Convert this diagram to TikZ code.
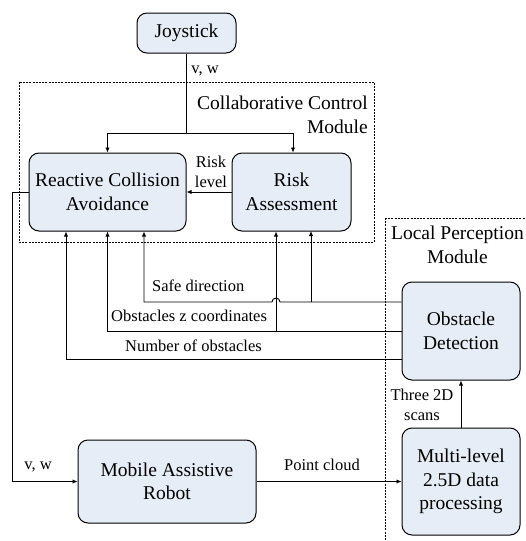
\documentclass[tikz,border=0pt]{standalone}
\usepackage{fontspec}
\setmainfont{Liberation Serif}
\usetikzlibrary{arrows.meta,calc}
\definecolor{boxfill}{HTML}{E7EDF7}
\tikzset{
  blockbox/.style={draw,line width=1pt,rounded corners=10pt,fill=boxfill,align=center,
    inner sep=2pt,font=\fontsize{19.5}{23.4}\selectfont},
  modbox/.style={draw,dashed,dash pattern=on 2pt off 1.2pt,line width=0.7pt},
  lbl/.style={inner sep=0pt,align=center,font=\fontsize{16.5}{19.5}\selectfont},
  modlbl/.style={inner sep=0pt,font=\fontsize{19.5}{23.4}\selectfont},
  sig/.style={line width=0.9pt},
  arr/.style={sig,-{Latex[length=5pt,width=4.5pt]}}
}
\begin{document}
\begin{tikzpicture}[x=1pt,y=-1pt]
            \useasboundingbox (0,0) rectangle (525,541);
            \draw[modbox] (19,82) rectangle (374,242);
            \draw[modbox] (385,218) rectangle (560,580);
            \node[blockbox,minimum width=99pt,minimum height=40pt] (joy) at (186.5,33) {Joystick};
            \node[blockbox,minimum width=157pt,minimum height=78pt] (rca) at (107.5,192) {Reactive Collision\\Avoidance};
            \node[blockbox,minimum width=119pt,minimum height=78pt] (ra) at (291.5,192) {Risk\\Assessment};
            \node[blockbox,minimum width=118pt,minimum height=98pt] (od) at (461,331) {Obstacle\\Detection};
            \node[blockbox,minimum width=118pt,minimum height=107pt] (ml) at (461,481.5) {Multi-level\\2.5D data\\processing};
            \node[blockbox,minimum width=178pt,minimum height=83pt] (mar) at (167,481.5) {Mobile Assistive\\Robot};
            \coordinate (jl) at (107.5,133);
            \coordinate (jr) at (293,133);
            \coordinate (sd) at (144,302);
            \coordinate (oz) at (107.5,331);
            \coordinate (no) at (66,359);
            \coordinate (hop) at (276,302);
            \coordinate (vl) at (12,192);
            \node[modlbl,anchor=east,align=right] (ccm) at (368,115) {Collaborative Control\\Module};
            \node[modlbl,anchor=east,align=center] (lpm) at (524,245) {Local Perception\\Module};
            \node[lbl] (vw1) at (205,71) {v, w};
            \node[lbl] (risk) at (211,172) {Risk\\level};
            \node[lbl,anchor=west] (sdl) at (152,286) {Safe direction};
            \node[lbl,anchor=west] (ozl) at (111,316) {Obstacles z coordinates};
            \node[lbl,anchor=west] (nol) at (125,346) {Number of obstacles};
            \node[lbl] (scans) at (422,405) {Three 2D\\scans};
            \node[lbl] (vw2) at (38,467) {v, w};
            \node[lbl] (pc) at (322,465) {Point cloud};
            \draw[arr] (joy.south) |- (jl) -- (rca.north);
            \draw[arr] (joy.south |- jl) -- (jr) -- (jr |- ra.north);
            \draw[arr] (ra.west) -- (rca.east);
            \draw[arr] (od.west |- sd) -- ($(hop)+(4,0)$) arc (0:-180:4) -- (sd) -- (sd |- rca.south);
            \draw[arr] (311,302) -- (311,231);
            \draw[arr] (od.west |- oz) -- (oz) -- (rca.south);
            \draw[arr] (hop |- oz) -- (hop |- ra.south);
            \draw[arr] (od.west |- no) -- (no) -- (no |- rca.south);
            \draw[arr] (ml.north) -- (od.south);
            \draw[arr] (mar.east) -- (ml.west);
            \draw[arr] (rca.west) -- (vl) |- (mar.west);
\end{tikzpicture}
\end{document}
